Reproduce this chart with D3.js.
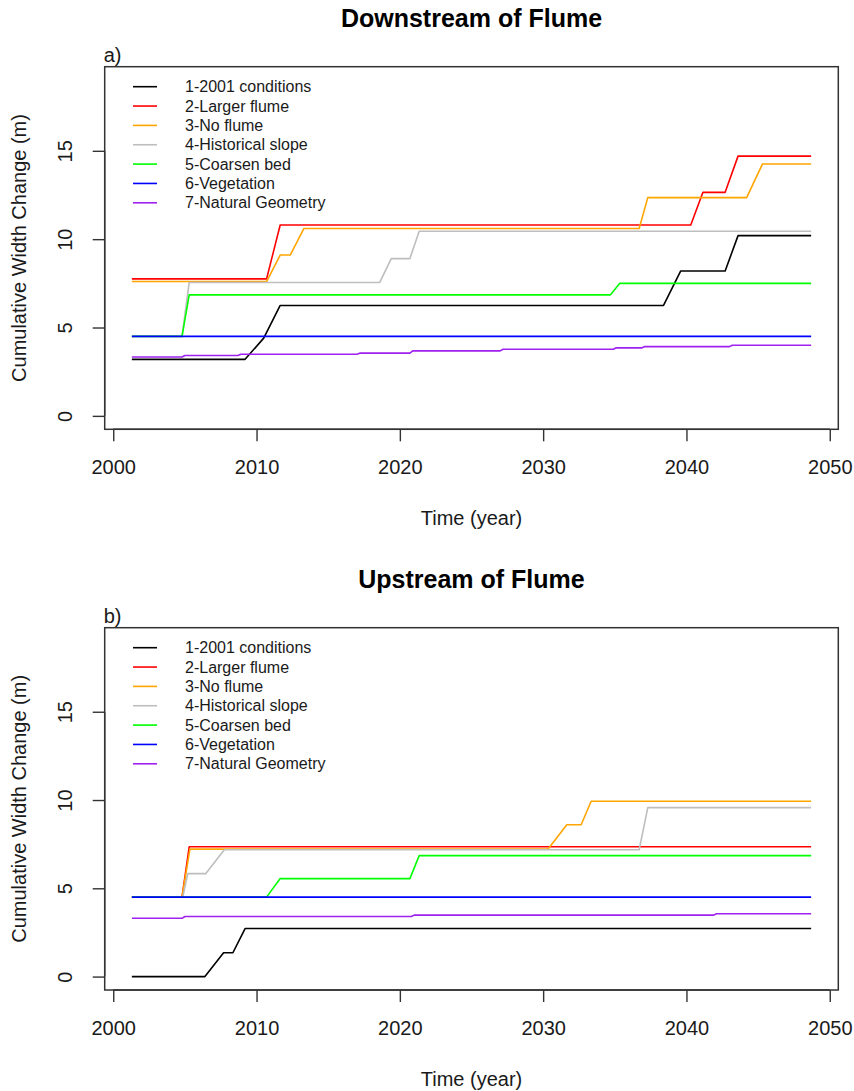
<!DOCTYPE html>
<html>
<head>
<meta charset="utf-8">
<script src="https://cdn.jsdelivr.net/npm/d3@7"></script>
<style>
  html, body { margin: 0; padding: 0; background: #fff; }
  svg { display: block; font-family: "Liberation Sans", Arial, sans-serif; }
</style>
</head>
<body>
<svg id="chart" width="854" height="1091"></svg>
<script>
// Scenario names (legend order = drawing order)
const seriesNames = [
  "1-2001 conditions", "2-Larger flume", "3-No flume", "4-Historical slope",
  "5-Coarsen bed", "6-Vegetation", "7-Natural Geometry"
];

// Axis ticks
const xTicks = [2000, 2010, 2020, 2030, 2040, 2050];
const yTicks = [0, 5, 10, 15];

// Simulation span and y limits
const timeSpan = [2001.3, 2048.7];
const widthLimits = [0, 19];

// Downstream of flume: breakpoint years and cumulative width change (m)
const dsYears1 = [2001.3, 2009.2, 2010.5, 2011.65, 2038.4, 2039.6, 2042.7, 2043.6, 2048.7];
const dsVals1  = [3.2, 3.2, 4.4, 6.25, 6.25, 8.2, 8.2, 10.2, 10.2];
const dsYears2 = [2001.3, 2010.7, 2011.65, 2040.3, 2041.15, 2042.7, 2043.6, 2048.7];
const dsVals2  = [7.75, 7.75, 10.8, 10.8, 12.65, 12.65, 14.7, 14.7];
const dsYears3 = [2001.3, 2010.7, 2011.65, 2012.35, 2013.3, 2036.7, 2037.3, 2044.2, 2045.3, 2048.7];
const dsVals3  = [7.6, 7.6, 9.1, 9.1, 10.6, 10.6, 12.35, 12.35, 14.25, 14.25];
const dsYears4 = [2001.3, 2004.8, 2005.3, 2018.6, 2019.4, 2020.7, 2021.35, 2048.7];
const dsVals4  = [4.5, 4.5, 7.55, 7.55, 8.9, 8.9, 10.45, 10.45];
const dsYears5 = [2001.3, 2004.8, 2005.3, 2034.7, 2035.35, 2048.7];
const dsVals5  = [4.5, 4.5, 6.85, 6.85, 7.5, 7.5];
const dsYears6 = [2001.3, 2048.7];
const dsVals6  = [4.5, 4.5];
const dsYears7 = [2001.3, 2004.8, 2005.0, 2008.7, 2008.9, 2017.0, 2017.2, 2020.7, 2020.9,
                  2027.0, 2027.2, 2034.9, 2035.1, 2036.9, 2037.1, 2043.0, 2043.2, 2048.7];
const dsVals7  = [3.33, 3.33, 3.42, 3.42, 3.49, 3.49, 3.55, 3.55, 3.68,
                  3.68, 3.77, 3.77, 3.85, 3.85, 3.92, 3.92, 4.0, 4.0];

// Upstream of flume
const usYears1 = [2001.3, 2006.4, 2007.7, 2008.35, 2009.2, 2048.7];
const usVals1  = [0, 0, 1.35, 1.35, 2.72, 2.72];
const usYears2 = [2001.3, 2004.8, 2005.3, 2048.7];
const usVals2  = [4.5, 4.5, 7.35, 7.35];
const usYears3 = [2001.3, 2004.8, 2005.35, 2030.35, 2031.65, 2032.65, 2033.35, 2048.7];
const usVals3  = [4.5, 4.5, 7.22, 7.22, 8.6, 8.6, 9.93, 9.93];
const usYears4 = [2001.3, 2004.85, 2005.2, 2006.45, 2007.75, 2036.7, 2037.3, 2048.7];
const usVals4  = [4.5, 4.5, 5.83, 5.83, 7.18, 7.18, 9.57, 9.57];
const usYears5 = [2001.3, 2010.7, 2011.65, 2020.7, 2021.35, 2048.7];
const usVals5  = [4.5, 4.5, 5.55, 5.55, 6.85, 6.85];
const usYears6 = [2001.3, 2048.7];
const usVals6  = [4.5, 4.5];
const usYears7 = [2001.3, 2004.8, 2005.0, 2020.8, 2021.0, 2041.9, 2042.1, 2048.7];
const usVals7  = [3.3, 3.3, 3.4, 3.4, 3.48, 3.48, 3.56, 3.56];

const seriesColors = ["#000000", "#ff0000", "#ffa500", "#bebebe", "#00ff00", "#0000ff", "#a020f0"];

const zip = (xs, ys) => xs.map((x, i) => [x, ys[i]]);

const panels = [
  {
    title: "Downstream of Flume", tag: "a)", top: 66.7, bottom: 429.3,
    series: [zip(dsYears1, dsVals1), zip(dsYears2, dsVals2), zip(dsYears3, dsVals3),
             zip(dsYears4, dsVals4), zip(dsYears5, dsVals5), zip(dsYears6, dsVals6),
             zip(dsYears7, dsVals7)]
  },
  {
    title: "Upstream of Flume", tag: "b)", top: 627.7, bottom: 990,
    series: [zip(usYears1, usVals1), zip(usYears2, usVals2), zip(usYears3, usVals3),
             zip(usYears4, usVals4), zip(usYears5, usVals5), zip(usYears6, usVals6),
             zip(usYears7, usVals7)]
  }
];

// R-style 4% axis extension
function extend(lim) {
  const pad = (lim[1] - lim[0]) * 0.04;
  return [lim[0] - pad, lim[1] + pad];
}

const left = 104.7, right = 838.3;
const textColor = "#1a1a1a";
const frameColor = "#333333";
const svg = d3.select("#chart");

panels.forEach(p => {
  const x = d3.scaleLinear().domain(extend(timeSpan)).range([left, right]);
  const y = d3.scaleLinear().domain(extend(widthLimits)).range([p.bottom, p.top]);
  const g = svg.append("g");

  // Title and panel tag
  g.append("text")
    .attr("x", (left + right) / 2).attr("y", p.top - 39.5)
    .attr("text-anchor", "middle")
    .attr("font-size", 25).attr("font-weight", "bold")
    .attr("fill", "#000")
    .text(p.title);
  g.append("text")
    .attr("x", left - 1).attr("y", p.top - 5)
    .attr("font-size", 20).attr("fill", textColor)
    .text(p.tag);

  // Series lines
  const line = d3.line().x(d => x(d[0])).y(d => y(d[1]));
  p.series.forEach((s, i) => {
    g.append("path")
      .datum(s)
      .attr("d", line)
      .attr("fill", "none")
      .attr("stroke", seriesColors[i])
      .attr("stroke-width", 1.6)
      .attr("stroke-linejoin", "round");
  });

  // Bottom axis
  const xAxis = d3.axisBottom(x).tickValues(xTicks).tickFormat(d3.format("d"))
    .tickSize(12).tickPadding(0);
  const gx = g.append("g").attr("transform", `translate(0,${p.bottom})`).call(xAxis);
  gx.select(".domain").attr("stroke", frameColor).attr("stroke-width", 1.4)
    .attr("d", `M${x(xTicks[0])},0H${x(xTicks[xTicks.length - 1])}`);
  gx.selectAll(".tick line").attr("stroke", frameColor).attr("stroke-width", 1.4);
  gx.selectAll(".tick text")
    .attr("font-size", 20).attr("fill", textColor)
    .attr("font-family", "Liberation Sans, Arial, sans-serif")
    .attr("dy", null).attr("y", 45);

  // Left axis with labels parallel to the axis
  const yAxis = d3.axisLeft(y).tickValues(yTicks).tickSize(12).tickPadding(0);
  const gy = g.append("g").attr("transform", `translate(${left},0)`).call(yAxis);
  gy.select(".domain").attr("stroke", frameColor).attr("stroke-width", 1.4)
    .attr("d", `M0,${y(yTicks[0])}V${y(yTicks[yTicks.length - 1])}`);
  gy.selectAll(".tick line").attr("stroke", frameColor).attr("stroke-width", 1.4);
  gy.selectAll(".tick text")
    .attr("font-size", 20).attr("fill", textColor)
    .attr("font-family", "Liberation Sans, Arial, sans-serif")
    .attr("x", null).attr("dy", null)
    .attr("text-anchor", "middle")
    .attr("transform", `translate(${72 - left},0) rotate(-90)`);

  // Plot frame
  g.append("rect")
    .attr("x", left).attr("y", p.top)
    .attr("width", right - left).attr("height", p.bottom - p.top)
    .attr("fill", "none").attr("stroke", frameColor).attr("stroke-width", 1.5);

  // Axis titles
  g.append("text")
    .attr("x", (left + right) / 2).attr("y", p.bottom + 96)
    .attr("text-anchor", "middle").attr("font-size", 20).attr("fill", textColor)
    .text("Time (year)");
  g.append("text")
    .attr("transform", `translate(26,${(p.top + p.bottom) / 2}) rotate(-90)`)
    .attr("text-anchor", "middle").attr("font-size", 20).attr("fill", textColor)
    .text("Cumulative Width Change (m)");

  // Legend (no box)
  const lg = g.append("g");
  seriesNames.forEach((name, i) => {
    const cy = p.top + 20 + i * 19.35;
    lg.append("line")
      .attr("x1", 133).attr("x2", 157).attr("y1", cy).attr("y2", cy)
      .attr("stroke", seriesColors[i]).attr("stroke-width", 1.6);
    lg.append("text")
      .attr("x", 185).attr("y", cy + 5.5)
      .attr("font-size", 16).attr("fill", textColor)
      .text(name);
  });
});
</script>
</body>
</html>
